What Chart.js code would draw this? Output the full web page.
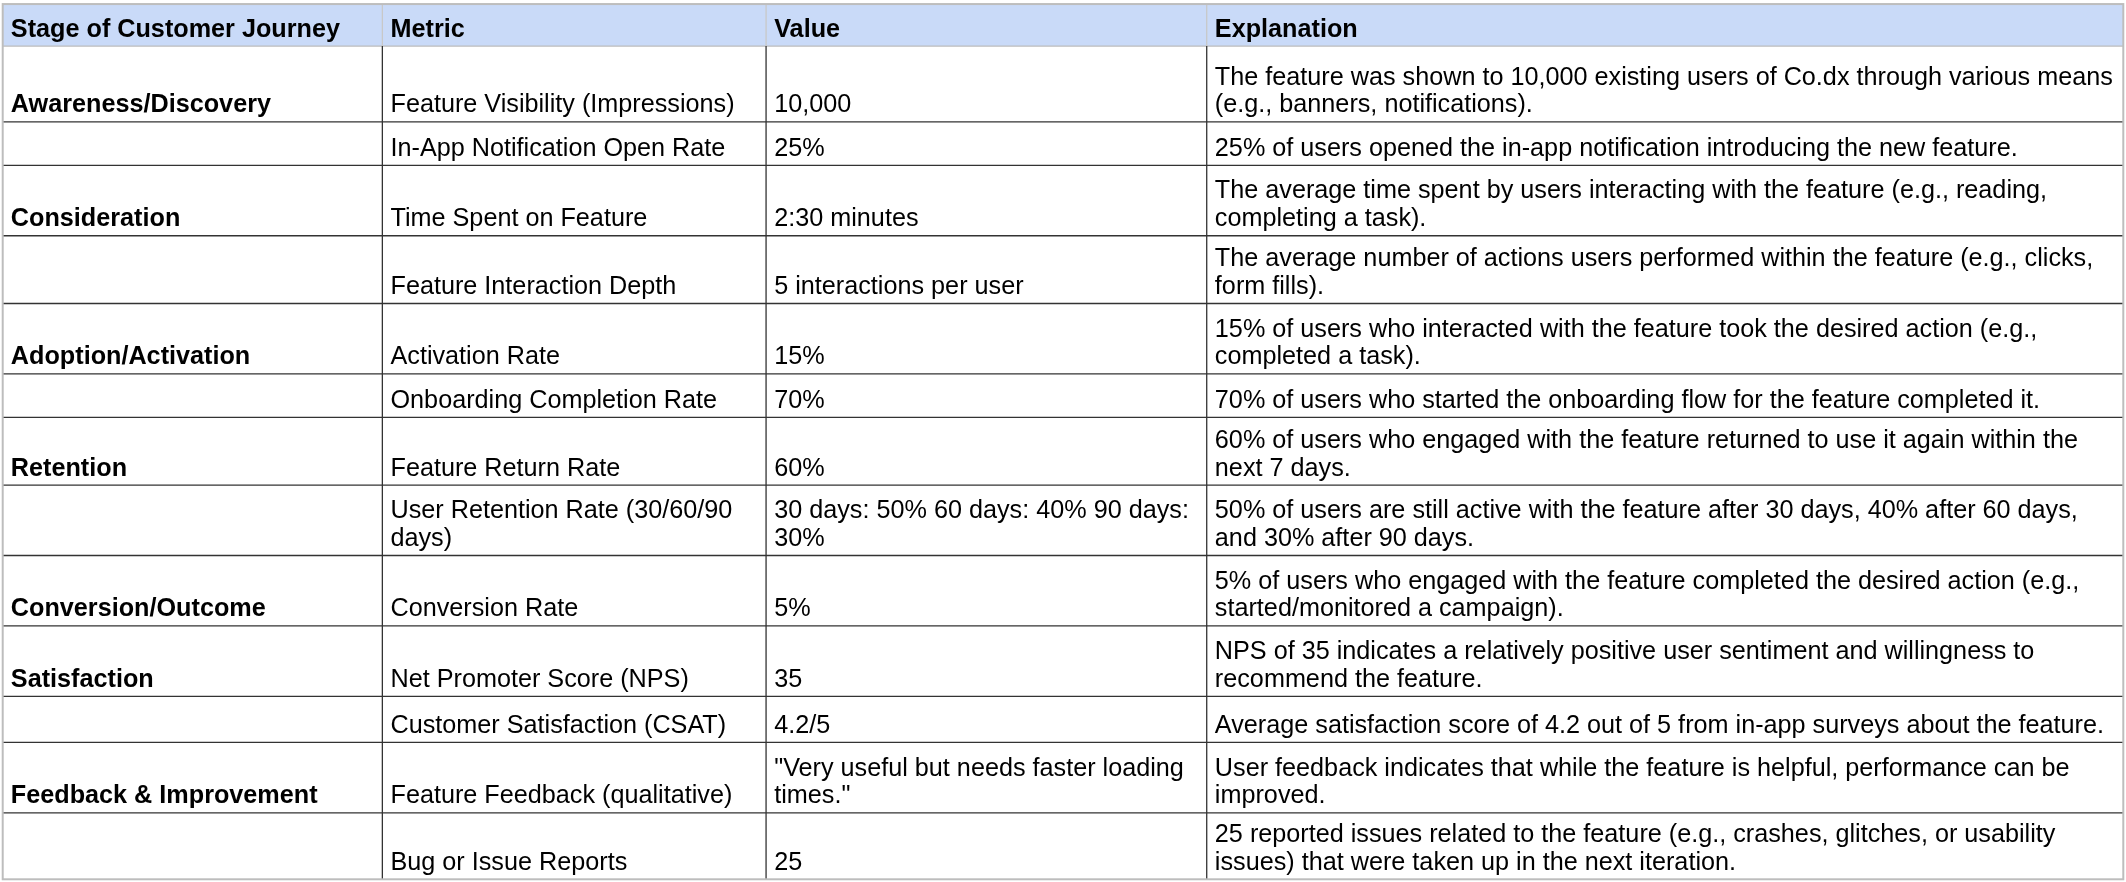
<!DOCTYPE html>
<html>
<head>
<meta charset="utf-8">
<script src="https://cdn.jsdelivr.net/npm/chart.js@4"></script>
<style>
  html, body { margin: 0; padding: 0; background: #fff; }
  #wrap { width: 2126px; height: 882px; }
</style>
</head>
<body>
<div id="wrap"><canvas id="tbl"></canvas></div>
<script>
const headers = ['Stage of Customer Journey', 'Metric', 'Value', 'Explanation'];
const stages = ['Awareness/Discovery', '', 'Consideration', '', 'Adoption/Activation', '', 'Retention', '',
    'Conversion/Outcome', 'Satisfaction', '', 'Feedback & Improvement', ''];
const metrics = ['Feature Visibility (Impressions)', 'In-App Notification Open Rate', 'Time Spent on Feature',
    'Feature Interaction Depth', 'Activation Rate', 'Onboarding Completion Rate', 'Feature Return Rate',
    'User Retention Rate (30/60/90 days)', 'Conversion Rate', 'Net Promoter Score (NPS)',
    'Customer Satisfaction (CSAT)', 'Feature Feedback (qualitative)', 'Bug or Issue Reports'];
const values = ['10,000', '25%', '2:30 minutes', '5 interactions per user', '15%', '70%', '60%',
    '30 days: 50% 60 days: 40% 90 days: 30%', '5%', '35', '4.2/5',
    '"Very useful but needs faster loading times."', '25'];
const explanations = [
    'The feature was shown to 10,000 existing users of Co.dx through various means (e.g., banners, notifications).',
    '25% of users opened the in-app notification introducing the new feature.',
    'The average time spent by users interacting with the feature (e.g., reading, completing a task).',
    'The average number of actions users performed within the feature (e.g., clicks, form fills).',
    '15% of users who interacted with the feature took the desired action (e.g., completed a task).',
    '70% of users who started the onboarding flow for the feature completed it.',
    '60% of users who engaged with the feature returned to use it again within the next 7 days.',
    '50% of users are still active with the feature after 30 days, 40% after 60 days, and 30% after 90 days.',
    '5% of users who engaged with the feature completed the desired action (e.g., started/monitored a campaign).',
    'NPS of 35 indicates a relatively positive user sentiment and willingness to recommend the feature.',
    'Average satisfaction score of 4.2 out of 5 from in-app surveys about the feature.',
    'User feedback indicates that while the feature is helpful, performance can be improved.',
    '25 reported issues related to the feature (e.g., crashes, glitches, or usability issues) that were taken up in the next iteration.'
];

// layout (table units)
const colEdges = [2, 282, 565, 890, 1566];
const rowEdges = [3, 34, 90, 122, 174, 224, 276, 308, 358, 410, 462, 514, 548, 600, 649];

function wrap(ctx, text, maxW) {
    const words = text.split(' ');
    const lines = [];
    let cur = '';
    words.forEach(w => {
        const t = cur ? cur + ' ' + w : w;
        if (ctx.measureText(t).width > maxW && cur) { lines.push(cur); cur = w; }
        else cur = t;
    });
    if (cur) lines.push(cur);
    return lines;
}

const tablePlugin = {
    id: 'tablePlugin',
    afterDraw(chart) {
        const ctx = chart.ctx;
        const xs = chart.scales.x, ys = chart.scales.y;
        const px = v => xs.getPixelForValue(v);
        const py = v => ys.getPixelForValue(v);
        const k = px(1) - px(0);
        const fs = 18.6 * k, lh = 20.5 * k, pad = 6 * k;
        ctx.save();
        // header background
        ctx.fillStyle = '#c9daf8';
        ctx.fillRect(px(colEdges[0]), py(rowEdges[0]), px(colEdges[4]) - px(colEdges[0]), py(rowEdges[1]) - py(rowEdges[0]));
        // grid
        ctx.lineWidth = 1.3;
        for (let r = 1; r < rowEdges.length - 1; r++) {
            ctx.strokeStyle = r === 1 ? '#bcbcbc' : '#333';
            ctx.beginPath();
            ctx.moveTo(px(colEdges[0]), py(rowEdges[r]));
            ctx.lineTo(px(colEdges[4]), py(rowEdges[r]));
            ctx.stroke();
        }
        for (let c = 1; c < colEdges.length - 1; c++) {
            ctx.strokeStyle = '#c8c8c8';
            ctx.beginPath();
            ctx.moveTo(px(colEdges[c]), py(rowEdges[0]));
            ctx.lineTo(px(colEdges[c]), py(rowEdges[1]));
            ctx.stroke();
            ctx.strokeStyle = '#333';
            ctx.beginPath();
            ctx.moveTo(px(colEdges[c]), py(rowEdges[1]));
            ctx.lineTo(px(colEdges[c]), py(rowEdges[rowEdges.length - 1]));
            ctx.stroke();
        }
        ctx.strokeStyle = '#bdbdbd';
        ctx.lineWidth = 2;
        ctx.strokeRect(px(colEdges[0]), py(rowEdges[0]), px(colEdges[4]) - px(colEdges[0]),
            py(rowEdges[rowEdges.length - 1]) - py(rowEdges[0]));

        ctx.fillStyle = '#000';
        ctx.textBaseline = 'alphabetic';
        const cell = (text, c, r, bold) => {
            ctx.font = (bold ? 'bold ' : '') + fs + 'px "Liberation Sans", Arial, sans-serif';
            const x0 = px(colEdges[c]) + pad;
            const maxW = px(colEdges[c + 1]) - px(colEdges[c]) - 2 * pad;
            const lines = wrap(ctx, text, maxW);
            const bottom = py(rowEdges[r + 1]) - 7 * k;
            lines.forEach((l, i) => ctx.fillText(l, x0, bottom - (lines.length - 1 - i) * lh));
        };
        headers.forEach((h, c) => cell(h, c, 0, true));
        for (let i = 0; i < metrics.length; i++) {
            cell(stages[i], 0, i + 1, true);
            cell(metrics[i], 1, i + 1, false);
            cell(values[i], 2, i + 1, false);
            cell(explanations[i], 3, i + 1, false);
        }
        ctx.restore();
    }
};

new Chart(document.getElementById('tbl').getContext('2d'), {
    type: 'scatter',
    data: { datasets: [{ data: [], pointRadius: 0 }] },
    options: {
        responsive: true,
        maintainAspectRatio: false,
        animation: false,
        layout: { padding: 0 },
        plugins: { legend: { display: false }, tooltip: { enabled: false } },
        scales: {
            x: { type: 'linear', min: 0, max: 1568, display: false },
            y: { type: 'linear', min: 0, max: 651, reverse: true, display: false }
        }
    },
    plugins: [tablePlugin]
});
</script>
</body>
</html>
